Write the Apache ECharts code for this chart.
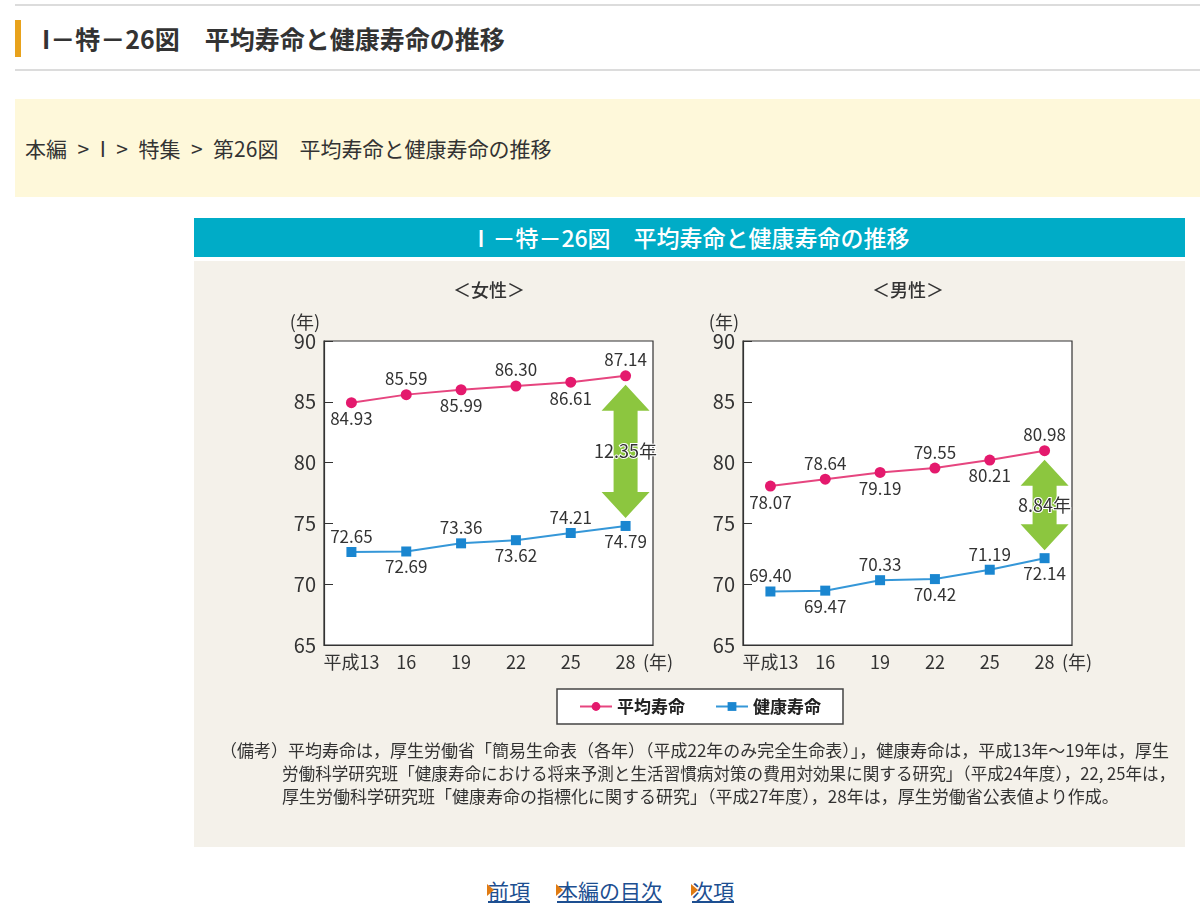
<!DOCTYPE html>
<html lang="ja">
<head>
<meta charset="utf-8">
<title>平均寿命と健康寿命の推移</title>
<script src="https://cdn.jsdelivr.net/npm/echarts@6/dist/echarts.min.js"></script>
<style>
  body { margin: 0; width: 1200px; height: 924px; background: #fff; position: relative; overflow: hidden;
         font-family: "Noto Sans CJK JP", "Noto Sans", sans-serif; color: #333; }
  .rule { position: absolute; left: 15px; right: 0; height: 2px; background: #dcdcdc; }
  h1 { position: absolute; left: 15px; top: 20px; margin: 0; height: 37px; line-height: 37px;
       border-left: 6px solid #e8a21c; padding-left: 21px; font-size: 25px; font-weight: bold; color: #333; }
  .crumb { position: absolute; left: 15px; top: 99px; width: 1185px; height: 98px; line-height: 98px;
           background: #fef8da; font-size: 21px; padding-left: 10px; box-sizing: border-box; white-space: pre; }
  .figbar { position: absolute; left: 194px; top: 218px; width: 991px; height: 39px; line-height: 39px;
            background: #00acc7; color: #fff; text-align: center; font-size: 23px; font-weight: 500; }
  #chart { position: absolute; left: 194px; top: 261px; width: 991px; height: 586px; }
  .nav a { position: absolute; top: 875px; font-size: 21px; color: #1d4f91; text-decoration: underline; }
  .nav a::before { content: ""; position: absolute; left: -1px; top: 9px; border-left: 7px solid #e07b12;
                   border-top: 6px solid transparent; border-bottom: 6px solid transparent; }
</style>
</head>
<body>
<div class="rule" style="top:4px"></div>
<h1>I－特－26図　平均寿命と健康寿命の推移</h1>
<div class="rule" style="top:69px"></div>
<div class="crumb">本編&ensp;&gt;&ensp;I&ensp;&gt;&ensp;特集&ensp;&gt;&ensp;第26図　平均寿命と健康寿命の推移</div>
<div class="figbar">Ⅰ－特－26図　平均寿命と健康寿命の推移</div>
<div id="chart"></div>
<div class="nav">
  <a style="left:488px">前項</a>
  <a style="left:557px">本編の目次</a>
  <a style="left:692px">次項</a>
</div>
<script>
// 平成年（調査年）
const years = ['平成13', '16', '19', '22', '25', '28'];
// 女性
const femaleAvg = [84.93, 85.59, 85.99, 86.30, 86.61, 87.14];
const femaleHealth = [72.65, 72.69, 73.36, 73.62, 74.21, 74.79];
// 男性
const maleAvg = [78.07, 78.64, 79.19, 79.55, 80.21, 80.98];
const maleHealth = [69.40, 69.47, 70.33, 70.42, 71.19, 72.14];
// 縦軸
const yMin = 65;
const yMax = 90;
const yStep = 5;

const notes = [
  '（備考）平均寿命は，厚生労働省「簡易生命表（各年）（平成22年のみ完全生命表）」，健康寿命は，平成13年～19年は，厚生',
  '労働科学研究班「健康寿命における将来予測と生活習慣病対策の費用対効果に関する研究」（平成24年度），22, 25年は，',
  '厚生労働科学研究班「健康寿命の指標化に関する研究」（平成27年度），28年は，厚生労働省公表値より作成。'
];

const FONT = '"Noto Sans CJK JP", "Noto Sans", sans-serif';
const PINK = '#e4196d';
const BLUE = '#1a86d0';

// 折れ線（ラベルは上下交互）
function lineSeries(name, values, idx, color, lineColor, symbol, size, evenTop) {
  return {
    name: name,
    type: 'line',
    xAxisIndex: idx,
    yAxisIndex: idx,
    symbol: symbol,
    symbolSize: size,
    itemStyle: { color: color },
    lineStyle: { color: lineColor, width: 2 },
    label: {
      show: true, fontSize: 17, color: '#333', distance: 2,
      formatter: (p) => p.value.toFixed(2)
    },
    data: values.map((v, i) => ({
      value: v,
      label: { position: ((i % 2 === 0) === evenTop) ? 'top' : 'bottom' }
    })),
    z: 3
  };
}

// 差を示す両矢印
function gapSeries(avg, health, idx) {
  const last = avg.length - 1;
  return {
    type: 'custom',
    xAxisIndex: idx,
    yAxisIndex: idx,
    clip: false,
    silent: true,
    z: 2,
    data: [[last, avg[last], health[last]]],
    renderItem: function (params, api) {
      const top = api.coord([api.value(0), api.value(1)]);
      const bot = api.coord([api.value(0), api.value(2)]);
      const x = top[0], y1 = top[1] + 9, y2 = bot[1] - 8;
      const hw = 24, sw = 12, hh = 26;
      return {
        type: 'group',
        children: [{
          type: 'polygon',
          shape: { points: [
            [x, y1], [x + hw, y1 + hh], [x + sw, y1 + hh], [x + sw, y2 - hh], [x + hw, y2 - hh],
            [x, y2], [x - hw, y2 - hh], [x - sw, y2 - hh], [x - sw, y1 + hh], [x - hw, y1 + hh]
          ] },
          style: { fill: '#8cc63f' }
        }, {
          type: 'text',
          x: x,
          y: (y1 + y2) / 2,
          style: {
            text: (api.value(1) - api.value(2)).toFixed(2) + '年',
            fontSize: 18, fontFamily: FONT, fill: '#333',
            align: 'center', verticalAlign: 'middle',
            stroke: '#fff', lineWidth: 2
          }
        }]
      };
    }
  };
}

function xAxis(idx) {
  return {
    gridIndex: idx,
    type: 'category',
    data: years,
    boundaryGap: true,
    name: '(年)',
    nameLocation: 'end',
    nameGap: -10,
    nameTextStyle: { fontSize: 18, color: '#333', verticalAlign: 'top', align: 'left', padding: [8, 0, 0, 0] },
    axisLine: { lineStyle: { color: '#333', width: 1.2 } },
    axisTick: { alignWithLabel: true, inside: true, length: 10, lineStyle: { color: '#333' } },
    axisLabel: { interval: 0, fontSize: 18, color: '#333', margin: 8 }
  };
}

function yAxis(idx) {
  return {
    gridIndex: idx,
    type: 'value',
    min: yMin,
    max: yMax,
    interval: yStep,
    name: '(年)',
    nameLocation: 'end',
    nameGap: 10,
    nameTextStyle: { fontSize: 18, color: '#333', align: 'right', padding: [0, 4, 0, 0] },
    axisLine: { show: true, lineStyle: { color: '#333', width: 1.2 } },
    axisTick: { show: true, inside: true, length: 9, lineStyle: { color: '#333' } },
    axisLabel: { fontSize: 20, color: '#333', margin: 8 },
    splitLine: { show: false }
  };
}

const chart = echarts.init(document.getElementById('chart'));
chart.setOption({
  animation: false,
  backgroundColor: '#f4f1ea',
  textStyle: { fontFamily: FONT },
  grid: [
    { left: 130, top: 80, width: 329, height: 304, show: true, backgroundColor: '#fff', borderColor: '#333', borderWidth: 1.2 },
    { left: 549, top: 80, width: 329, height: 304, show: true, backgroundColor: '#fff', borderColor: '#333', borderWidth: 1.2 }
  ],
  xAxis: [xAxis(0), xAxis(1)],
  yAxis: [yAxis(0), yAxis(1)],
  legend: {
    data: ['平均寿命', '健康寿命'],
    left: 363,
    top: 428,
    padding: [9, 22],
    itemGap: 30,
    itemWidth: 32,
    itemHeight: 11,
    backgroundColor: '#fff',
    borderColor: '#444',
    borderWidth: 1.5,
    textStyle: { fontSize: 17, fontWeight: 'bold', color: '#222' }
  },
  graphic: [
    { type: 'text', x: 295, y: 29, style: { text: '＜女性＞', fontSize: 18, fontWeight: 500, fontFamily: FONT, fill: '#333', align: 'center', verticalAlign: 'middle' } },
    { type: 'text', x: 714, y: 29, style: { text: '＜男性＞', fontSize: 18, fontWeight: 500, fontFamily: FONT, fill: '#333', align: 'center', verticalAlign: 'middle' } }
  ].concat(notes.map((t, i) => ({
    type: 'text',
    x: i === 0 ? 26 : 88,
    y: 490 + i * 23,
    style: { text: t, fontSize: i === 1 ? 16.6 : 17, fontFamily: FONT, fill: '#333', verticalAlign: 'middle' }
  }))),
  series: [
    lineSeries('平均寿命', femaleAvg, 0, PINK, '#e6457f', 'circle', 11, false),
    lineSeries('健康寿命', femaleHealth, 0, BLUE, '#3597d8', 'rect', 10, true),
    lineSeries('平均寿命', maleAvg, 1, PINK, '#e6457f', 'circle', 11, false),
    lineSeries('健康寿命', maleHealth, 1, BLUE, '#3597d8', 'rect', 10, true),
    gapSeries(femaleAvg, femaleHealth, 0),
    gapSeries(maleAvg, maleHealth, 1)
  ]
});
</script>
</body>
</html>
